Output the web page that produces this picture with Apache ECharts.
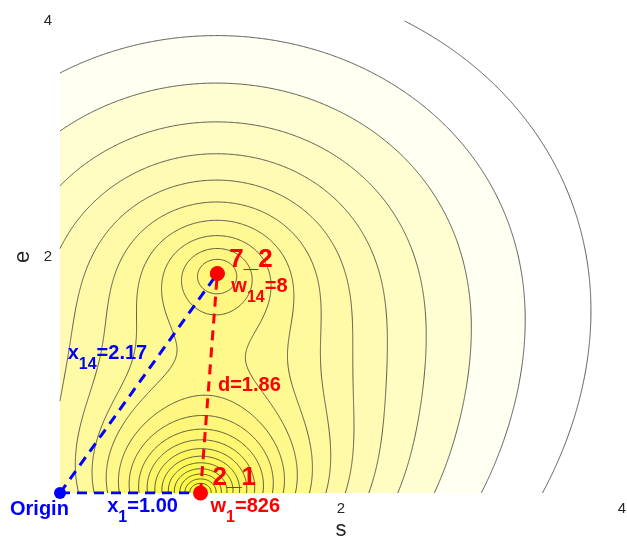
<!DOCTYPE html>
<html>
<head>
<meta charset="utf-8">
<script src="https://cdn.jsdelivr.net/npm/echarts@6/dist/echarts.min.js"></script>
<style>
html,body{margin:0;padding:0;background:#ffffff;overflow:hidden;width:627px;height:536px;}
#chart{position:absolute;left:0;top:0;width:627px;height:536px;}
</style>
</head>
<body>
<div id="chart"></div>
<script>
// ---------------- data ----------------
const pointNames = ['Origin', '2_1', '7_2'];
const pointX = [0.00, 1.00, 1.12];
const pointY = [0.00, 0.00, 1.86];
const xTickValues = [2, 4];
const yTickValues = [2, 4];
const axisNames = ['s', 'e'];
// field behind the contours: one term per weighted point (2_1 and 7_2)
const sourceX = [1.00, 1.12];
const sourceY = [0.00, 1.86];
const sourceAmp = [38.2163, 1.0];
const sourceCore = [3.0, 0.3409];
const sourcePow = [5.3657, 0.0242];
// contour levels (log of field): first filled level, step, number of levels above it
const levelBase = -0.0195;
const levelStep = 0.005;
const levelCount = 20;

function gField(x, y) {
  let f = 0;
  for (let i = 0; i < sourceX.length; i++) {
    const d = Math.hypot(x - sourceX[i], y - sourceY[i]);
    f += sourceAmp[i] * Math.pow(d + sourceCore[i], -sourcePow[i]);
  }
  return Math.log(f);
}

// ---------------- grid of field values ----------------
const NX = 480, NY = 480;
const gxs = [], gys = [];
for (let i = 0; i <= NX; i++) gxs.push(4 * i / NX);
for (let j = 0; j <= NY; j++) gys.push(4 * j / NY);
const G = new Float64Array((NX + 1) * (NY + 1));
for (let j = 0; j <= NY; j++) for (let i = 0; i <= NX; i++) G[j * (NX + 1) + i] = gField(gxs[i], gys[j]);
const KMAX = levelCount;
const levels = [];
for (let k = -1; k <= KMAX; k++) levels.push(levelBase + k * levelStep);

function contourLines(level) {
  const segs = [];
  const W = NX + 1;
  const P = (i, j) => G[j * W + i];
  function ip(i0, j0, i1, j1) {
    const a = P(i0, j0), b = P(i1, j1), t = (level - a) / (b - a);
    return [gxs[i0] + (gxs[i1] - gxs[i0]) * t, gys[j0] + (gys[j1] - gys[j0]) * t];
  }
  for (let j = 0; j < NY; j++) for (let i = 0; i < NX; i++) {
    const v0 = P(i, j), v1 = P(i + 1, j), v2 = P(i + 1, j + 1), v3 = P(i, j + 1);
    const code = (v0 > level ? 1 : 0) | (v1 > level ? 2 : 0) | (v2 > level ? 4 : 0) | (v3 > level ? 8 : 0);
    if (code === 0 || code === 15) continue;
    const E = {
      b: ['h' + i + '_' + j, () => ip(i, j, i + 1, j)],
      t: ['h' + i + '_' + (j + 1), () => ip(i, j + 1, i + 1, j + 1)],
      l: ['v' + i + '_' + j, () => ip(i, j, i, j + 1)],
      r: ['v' + (i + 1) + '_' + j, () => ip(i + 1, j, i + 1, j + 1)]
    };
    const add = (e1, e2) => segs.push([E[e1][0], E[e1][1](), E[e2][0], E[e2][1]()]);
    if (code === 5 || code === 10) {
      const c = (v0 + v1 + v2 + v3) / 4 > level;
      if ((code === 5) === c) { add('b', 'r'); add('t', 'l'); } else { add('l', 'b'); add('t', 'r'); }
      continue;
    }
    const cr = [];
    if ((v0 > level) !== (v1 > level)) cr.push('b');
    if ((v1 > level) !== (v2 > level)) cr.push('r');
    if ((v3 > level) !== (v2 > level)) cr.push('t');
    if ((v0 > level) !== (v3 > level)) cr.push('l');
    if (cr.length === 2) add(cr[0], cr[1]);
  }
  const adj = new Map();
  segs.forEach((s, n) => { [s[0], s[2]].forEach(k => { if (!adj.has(k)) adj.set(k, []); adj.get(k).push(n); }); });
  const used = new Uint8Array(segs.length);
  const lines = [];
  function walk(key, out) {
    for (;;) {
      const list = adj.get(key); let nx = -1;
      for (const n of list) if (!used[n]) { nx = n; break; }
      if (nx < 0) return;
      used[nx] = 1; const t = segs[nx];
      if (t[0] === key) { out.push(t[3]); key = t[2]; } else { out.push(t[1]); key = t[0]; }
    }
  }
  for (let n = 0; n < segs.length; n++) {
    if (used[n]) continue; used[n] = 1;
    const s = segs[n];
    const fwd = [], back = [];
    walk(s[2], fwd); walk(s[0], back);
    lines.push(back.reverse().concat([s[1], s[3]], fwd));
  }
  return lines;
}
const contourSets = levels.map(contourLines);

const ROWS = 472, COLS = 562;
const bandRuns = [];
for (let b = 0; b <= KMAX + 1; b++) bandRuns.push([]);
for (let r = 0; r < ROWS; r++) {
  const y = 4 - (r + 0.5) * 4 / ROWS;
  const y0 = 4 - (r + 1) * 4 / ROWS, y1 = 4 - r * 4 / ROWS;
  let start = 0, cur = -1;
  for (let c = 0; c <= COLS; c++) {
    let b = -1;
    if (c < COLS) {
      const g = gField((c + 0.5) * 4 / COLS, y);
      b = g >= levelBase ? Math.min(KMAX + 1, Math.floor((g - levelBase) / levelStep) + 1) : 0;
    }
    if (b !== cur) {
      if (cur > 0) bandRuns[cur].push([start * 4 / COLS, c * 4 / COLS, y0, y1]);
      cur = b; start = c;
    }
  }
}
function bandColor(b) {
  const t = (b - 1) / Math.max(1, KMAX);
  const blue = Math.round(242 - 195 * Math.pow(t, 0.6));
  const green = Math.round(255 - 8 * Math.sin(Math.PI * t));
  return 'rgb(255,' + green + ',' + blue + ')';
}

const RED = '#ff0000', BLUE = '#0000ff';
const labelDefs = [
  { at: [pointX[2], pointY[2]], dx: 12, dy: -5, size: 26, color: RED, parts: [['7_2', 0]] },
  { at: [pointX[2], pointY[2]], dx: 14, dy: 20, size: 20, color: RED, parts: [['w', 0], ['14', 1], ['=8', 0]] },
  { at: [(pointX[1] + pointX[2]) / 2, (pointY[1] + pointY[2]) / 2], dx: 9, dy: 9, size: 20, color: RED, parts: [['d=1.86', 0]] },
  { at: [pointX[2] / 2, pointY[2] / 2], dx: -71, dy: -23, size: 20, color: BLUE, parts: [['x', 0], ['14', 1], ['=2.17', 0]] },
  { at: [pointX[1] / 2, 0], dx: -23, dy: 20, size: 20, color: BLUE, parts: [['x', 0], ['1', 1], ['=1.00', 0]] },
  { at: [pointX[1], pointY[1]], dx: 10, dy: 20, size: 20, color: RED, parts: [['w', 0], ['1', 1], ['=826', 0]] },
  { at: [pointX[1], pointY[1]], dx: 12, dy: -6, size: 26, color: RED, parts: [['2_1', 0]] },
  { at: [pointX[0], pointY[0]], dx: -50, dy: 23, size: 20, color: BLUE, parts: [['Origin', 0]] }
];
const FONT = '"Liberation Sans", Arial, Helvetica, sans-serif';
const mctx = document.createElement('canvas').getContext('2d');
function tw(t, size) { mctx.font = 'bold ' + size + 'px ' + FONT; return mctx.measureText(t).width; }

const chart = echarts.init(document.getElementById('chart'), null, { renderer: 'canvas', width: 627, height: 536 });
chart.setOption({
  animation: false,
  backgroundColor: '#ffffff',
  grid: { left: 60, right: 5, top: 21, bottom: 43, containLabel: false, outerBoundsMode: 'none' },
  xAxis: {
    type: 'value', min: 0, max: 4, interval: 2,
    name: axisNames[0], nameLocation: 'middle', nameGap: 26, nameMoveOverlap: false,
    nameTextStyle: { fontSize: 22, color: '#262626', fontFamily: FONT },
    axisLine: { show: false }, axisTick: { show: false }, splitLine: { show: false },
    axisLabel: { margin: 8, fontSize: 15, color: '#262626', fontFamily: FONT, hideOverlap: false,
      formatter: v => (xTickValues.indexOf(v) >= 0 ? String(v) : '') }
  },
  yAxis: {
    type: 'value', min: 0, max: 4, interval: 2,
    name: axisNames[1], nameLocation: 'middle', nameGap: 26, nameRotate: 90, nameMoveOverlap: false,
    nameTextStyle: { fontSize: 22, color: '#262626', fontFamily: FONT },
    axisLine: { show: false }, axisTick: { show: false }, splitLine: { show: false },
    axisLabel: { margin: 8, fontSize: 15, color: '#262626', fontFamily: FONT, hideOverlap: false,
      formatter: v => (yTickValues.indexOf(v) >= 0 ? String(v) : '') }
  },
  series: [
    {
      type: 'custom', name: 'fill', z: 1, silent: true, clip: true,
      data: bandRuns.map((r, i) => [i]),
      renderItem: (params, api) => {
        const b = params.dataIndex; const runs = bandRuns[b];
        if (b === 0 || !runs.length) return null;
        let d = '';
        for (const q of runs) {
          const p0 = api.coord([q[0], q[3]]), p1 = api.coord([q[1], q[2]]);
          d += 'M' + p0[0].toFixed(2) + ' ' + (p0[1] - 0.3).toFixed(2) + 'H' + (p1[0] + 0.3).toFixed(2) + 'V' + (p1[1] + 0.3).toFixed(2) + 'H' + p0[0].toFixed(2) + 'Z';
        }
        return { type: 'path', shape: { pathData: d }, style: { fill: bandColor(b), stroke: null } };
      }
    },
    {
      type: 'custom', name: 'contours', z: 2, silent: true,
      data: contourSets.map((s, i) => [i]),
      renderItem: (params, api) => {
        const lines = contourSets[params.dataIndex];
        let d = '';
        for (const ln of lines) {
          ln.forEach((p, n) => { const q = api.coord(p); d += (n ? 'L' : 'M') + q[0].toFixed(2) + ' ' + q[1].toFixed(2); });
        }
        if (!d) return null;
        return { type: 'path', shape: { pathData: d }, style: { fill: null, stroke: '#333333', lineWidth: 0.8 } };
      }
    },
    { type: 'line', z: 3, symbol: 'none', silent: true, data: [[pointX[0], pointY[0]], [pointX[2], pointY[2]]], lineStyle: { color: BLUE, width: 3, type: [10, 7] } },
    { type: 'line', z: 3, symbol: 'none', silent: true, data: [[pointX[0], pointY[0]], [pointX[1], pointY[1]]], lineStyle: { color: BLUE, width: 3, type: [10, 7] } },
    { type: 'line', z: 3, symbol: 'none', silent: true, data: [[pointX[1], pointY[1]], [pointX[2], pointY[2]]], lineStyle: { color: RED, width: 3, type: [10, 7] } },
    {
      type: 'scatter', z: 4, silent: true,
      data: pointX.map((x, i) => ({ value: [x, pointY[i]], symbolSize: i === 0 ? 12 : 15, itemStyle: { color: i === 0 ? BLUE : RED, opacity: 1 } }))
    },
    {
      type: 'custom', name: 'labels', z: 5, silent: true,
      data: labelDefs.map((l, i) => [i]),
      renderItem: (params, api) => {
        const L = labelDefs[params.dataIndex];
        const p = api.coord(L.at);
        let x = p[0] + L.dx; const base = p[1] + L.dy;
        const children = [];
        for (const part of L.parts) {
          const sz = part[1] ? Math.round(L.size * 0.8) : L.size;
          const yb = base + (part[1] ? 10 : 0);
          children.push({ type: 'text', style: { text: part[0], x: x, y: yb - 0.3465 * sz, font: 'bold ' + sz + 'px ' + FONT, fill: L.color, textAlign: 'left', textVerticalAlign: 'middle' } });
          x += tw(part[0], sz);
        }
        return { type: 'group', children };
      }
    }
  ]
});
</script>
</body>
</html>
